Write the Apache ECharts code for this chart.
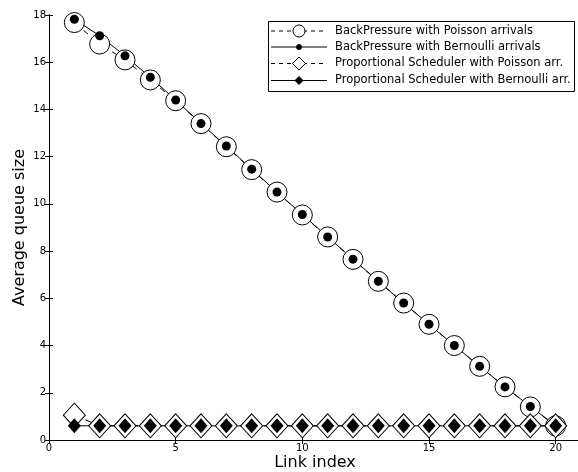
<!DOCTYPE html>
<html><head><meta charset="utf-8">
<script src="https://cdn.jsdelivr.net/npm/echarts@6/dist/echarts.min.js"></script>
<style>html,body{margin:0;padding:0;background:#fff}#c{width:578px;height:472px}</style>
</head><body><div id="c"></div>
<script>
var linkIndex = [1,2,3,4,5,6,7,8,9,10,11,12,13,14,15,16,17,18,19,20];
var bpPoisson = [17.68,16.77,16.1,15.25,14.37,13.4,12.42,11.45,10.5,9.53,8.6,7.65,6.72,5.8,4.9,4.0,3.12,2.25,1.4,0.6];
var bpBernoulli = [17.82,17.12,16.27,15.36,14.4,13.4,12.45,11.47,10.5,9.55,8.6,7.66,6.72,5.8,4.9,4.0,3.12,2.25,1.42,0.62];
var psPoisson = [1.05,0.6,0.6,0.6,0.6,0.6,0.6,0.6,0.6,0.6,0.6,0.6,0.6,0.6,0.6,0.6,0.6,0.6,0.6,0.6];
var psBernoulli = [0.6,0.6,0.6,0.6,0.6,0.6,0.6,0.6,0.6,0.6,0.6,0.6,0.6,0.6,0.6,0.6,0.6,0.6,0.6,0.6];
var xTicks = [0,5,10,15,20];
var yTicks = [0,2,4,6,8,10,12,14,16,18];
var names = ['BackPressure with Poisson arrivals','BackPressure with Bernoulli arrivals','Proportional Scheduler with Poisson arr.','Proportional Scheduler with Bernoulli arr.'];

function pairs(ys){ return linkIndex.map(function(x,i){return [x, ys[i]];}); }
var font = 'DejaVu Sans';
var chart = echarts.init(document.getElementById('c'));
var axLine = {show:true, lineStyle:{color:'#000', width:1}};
var tick = {show:true, inside:true, length:4, lineStyle:{color:'#000'}};

// legend drawn as graphic (real text)
var legRows = [31, 47, 63.5, 80.5];
var legStyles = [
  {dash:[4,4], sym:'circle', size:12, fill:'#fff'},
  {dash:null, sym:'circle', size:5, fill:'#000'},
  {dash:[4,4], sym:'diamond', size:13, fill:'#fff'},
  {dash:null, sym:'diamond', size:8, fill:'#000'}
];
var g = [{type:'rect', shape:{x:268.5, y:21.5, width:306, height:70}, style:{fill:'#fff', stroke:'#000', lineWidth:1}, z:100}];
names.forEach(function(n,i){
  var y = legRows[i], s = legStyles[i];
  g.push({type:'line', shape:{x1:271, y1:y, x2:327, y2:y}, style:{stroke:'#000', lineWidth:1, lineDash:s.dash}, z:101});
  if (s.sym === 'circle') {
    g.push({type:'circle', shape:{cx:299, cy:y, r:s.size/2}, style:{fill:s.fill, stroke:'#000', lineWidth:1}, z:102});
  } else {
    var h = s.size/2;
    g.push({type:'polygon', shape:{points:[[299,y-h],[299+h,y],[299,y+h],[299-h,y]]}, style:{fill:s.fill, stroke:'#000', lineWidth:1}, z:102});
  }
  g.push({type:'text', x:335, y:y, style:{text:n, font:'11.5px "DejaVu Sans"', fill:'#000', textVerticalAlign:'middle', verticalAlign:'middle'}, z:102});
});

chart.setOption({
  animation:false,
  backgroundColor:'#fff',
  textStyle:{fontFamily:font},
  grid:{left:49, top:15, width:532, bottom:32, containLabel:false, outerBoundsMode:'none'},
  graphic:g,
  xAxis:[{
    type:'value', min:0, max:21, interval:5,
    name:'Link index', nameLocation:'middle', nameGap:15, nameMoveOverlap:false,
    nameTextStyle:{fontFamily:font, fontSize:16, color:'#000'},
    axisLine:axLine, axisTick:tick, splitLine:{show:false},
    axisLabel:{fontFamily:font, fontSize:10, color:'#000', margin:3,
      formatter:function(v){return xTicks.indexOf(v)>=0 ? String(v) : '';}}
  },{
    type:'value', min:0, max:21, interval:5, position:'top',
    axisLine:axLine, axisTick:tick, axisLabel:{show:false}, splitLine:{show:false}
  }],
  yAxis:[{
    type:'value', min:0, max:18, interval:2,
    name:'Average queue size', nameLocation:'middle', nameGap:21, nameMoveOverlap:false,
    nameTextStyle:{fontFamily:font, fontSize:16, color:'#000'},
    axisLine:axLine, axisTick:tick, splitLine:{show:false},
    axisLabel:{fontFamily:font, fontSize:10, color:'#000', margin:3,
      formatter:function(v){return yTicks.indexOf(v)>=0 ? String(v) : '';}}
  },{
    type:'value', min:0, max:18, interval:2, position:'right',
    axisLine:axLine, axisTick:tick, axisLabel:{show:false}, splitLine:{show:false}
  }],
  series:[
    {name:names[0], type:'line', data:pairs(bpPoisson), symbol:'circle', symbolSize:20,
     lineStyle:{color:'#000', width:1, type:[6,6]},
     itemStyle:{color:'#fff', borderColor:'#000', borderWidth:1}},
    {name:names[1], type:'line', data:pairs(bpBernoulli), symbol:'circle', symbolSize:9,
     lineStyle:{color:'#000', width:1, type:'solid'},
     itemStyle:{color:'#000', borderColor:'#000', borderWidth:0}},
    {name:names[2], type:'line', data:pairs(psPoisson), symbol:'diamond', symbolSize:[22,24],
     lineStyle:{color:'#000', width:1, type:[6,6]},
     itemStyle:{color:'#fff', borderColor:'#000', borderWidth:1}},
    {name:names[3], type:'line', data:pairs(psBernoulli), symbol:'diamond', symbolSize:[13,15],
     lineStyle:{color:'#000', width:1, type:'solid'},
     itemStyle:{color:'#000', borderColor:'#000', borderWidth:0}}
  ]
});
</script></body></html>
